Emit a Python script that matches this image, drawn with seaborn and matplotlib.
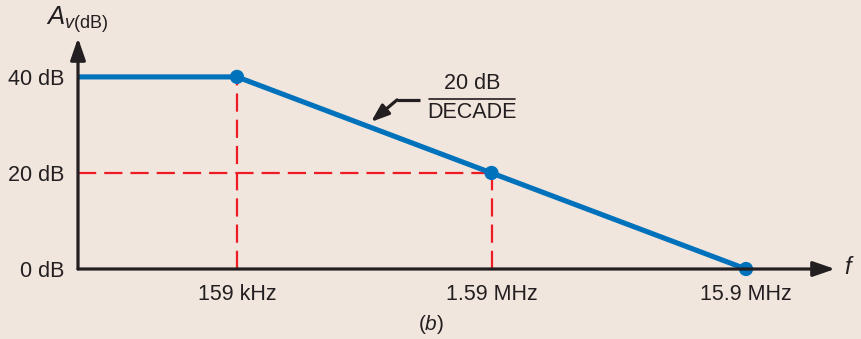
import numpy as np
import pandas as pd
import seaborn as sns
import matplotlib.pyplot as plt

# Bode magnitude asymptote of the amplifier
freq_hz = [37.7e3, 159e3, 1.59e6, 15.9e6]
gain_db = [40, 40, 20, 0]
corner_freq_hz = [159e3, 1.59e6, 15.9e6]
corner_gain_db = [40, 20, 0]
x_tick_labels = ["159 kHz", "1.59 MHz", "15.9 MHz"]
y_ticks_db = [0, 20, 40]
y_tick_labels = ["0 dB", "20 dB", "40 dB"]

BG = "#F1E6DE"
BLUE = "#0072BC"
RED = "#ED1C24"
INK = "#231F20"

sns.set_theme(style="white")
plt.rcParams["font.family"] = ["Liberation Sans", "DejaVu Sans"]
plt.rcParams["mathtext.fontset"] = "custom"
plt.rcParams["mathtext.rm"] = "Liberation Sans"
plt.rcParams["mathtext.it"] = "Liberation Sans:italic"

fig = plt.figure(figsize=(8.62, 3.39), dpi=100, facecolor=BG)
W, H = 862, 339
ax = fig.add_axes([78 / W, 70 / H, (835 - 78) / W, (269 - 38) / H])
ax.set_facecolor(BG)

ax.set_xscale("log")
xmin = 159e3 / 10 ** (159 / 254.5)
xmax = 15.9e6 * 10 ** (89 / 254.5)
ax.set_xlim(xmin, xmax)
ax.set_ylim(0, 48.1)

# red dashed guides to the corner points
dash = dict(color=RED, lw=1.6, dashes=(8.2, 3.6), zorder=2)
ax.plot([corner_freq_hz[0]] * 2, [0, corner_gain_db[0]], **dash)
ax.plot([xmin, corner_freq_hz[1]], [corner_gain_db[1]] * 2, **dash)
ax.plot([corner_freq_hz[1]] * 2, [0, corner_gain_db[1]], **dash)

df = pd.DataFrame({"f": freq_hz, "g": gain_db})
sns.lineplot(data=df, x="f", y="g", ax=ax, color=BLUE, lw=3.7, zorder=4,
             solid_capstyle="butt")
pts = pd.DataFrame({"f": corner_freq_hz, "g": corner_gain_db})
sns.scatterplot(data=pts, x="f", y="g", ax=ax, color=BLUE, s=105,
                edgecolor="none", zorder=5, clip_on=False)

for s in ax.spines.values():
    s.set_visible(False)

# axes drawn as arrows
arrow = dict(arrowstyle="-|>,head_length=1.1,head_width=0.38", color=INK,
             lw=2.3, shrinkA=0, shrinkB=0)
ax.annotate("", xy=(0, 1.0), xytext=(0, 0), xycoords="axes fraction",
            arrowprops=arrow, zorder=6, annotation_clip=False)
ax.annotate("", xy=(1.0, 0), xytext=(0, 0), xycoords="axes fraction",
            arrowprops=arrow, zorder=6, annotation_clip=False)

ax.set_xticks(corner_freq_hz)
ax.set_xticklabels(x_tick_labels)
ax.minorticks_off()
ax.set_yticks(y_ticks_db)
ax.set_yticklabels(y_tick_labels)
ax.tick_params(axis="both", length=0, labelsize=15.5, colors=INK)
ax.tick_params(axis="x", pad=11)
ax.tick_params(axis="y", pad=10)
ax.set_xlabel("")
ax.set_ylabel("")

fig.text(77 / W, 1 - 20 / H, r"$A_{v\mathrm{(dB)}}$", fontsize=18.5,
         color=INK, ha="center", va="center")
fig.text(848 / W, 1 - 268 / H, "f", fontsize=17, style="italic",
         color=INK, ha="center", va="center")
fig.text(431 / W, 1 - 325 / H, r"($\mathit{b}$)", fontsize=15,
         color=INK, ha="center", va="center")

# slope annotation: 20 dB per decade
def px_to_data(px, py):
    f = 159e3 * 10 ** ((px - 237) / 254.5)
    g = (269 - py) / 96 * 20
    return f, g

ax.text(*px_to_data(472, 84), "20 dB", fontsize=15.5,
        color=INK, ha="center", va="center")
ax.text(*px_to_data(472, 113), "DECADE",
        fontsize=15.5, color=INK, ha="center", va="center")
ax.plot([px_to_data(429, 99)[0], px_to_data(515, 99)[0]],
        [px_to_data(429, 99)[1]] * 2, color=INK, lw=1.2)
bend = px_to_data(397, 100)
ax.plot([px_to_data(420, 100)[0], bend[0]], [bend[1]] * 2, color=INK, lw=2.3,
        solid_capstyle="butt")
ax.annotate("", xy=px_to_data(371, 122), xytext=bend,
            arrowprops=dict(arrowstyle="-|>,head_length=0.9,head_width=0.33",
                            color=INK, lw=2.3, shrinkA=0, shrinkB=0))

fig.savefig("out.png", dpi=100, facecolor=BG)
